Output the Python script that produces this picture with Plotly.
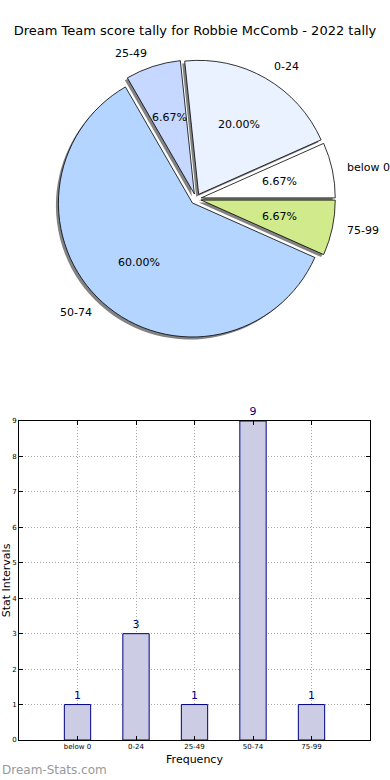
import math
import plotly.graph_objects as go

# ---- data ----
categories = ["below 0", "0-24", "25-49", "50-74", "75-99"]
counts = [1, 3, 1, 9, 1]
pie_colors = ["#ffffff", "#eaf2ff", "#c6d8ff", "#b3d5ff", "#d1ea8c"]
y_ticks = list(range(0, 10))
title_text = "Dream Team score tally for Robbie McComb - 2022 tally"

W, H = 390, 780
FONT = "DejaVu Sans, Verdana, sans-serif"

# pie geometry (pixels)
cx, cy, r = 196, 199, 134
pull = 0.04
rd = r * (1 + pull)
rot = 66  # first slice starts at 3 o'clock, counterclockwise
pct_dist, lab_dist = 0.6, 1.1
pie_area_bottom = 400  # px from top; overlay axis for pie texts spans 0..400

def dom(cxp, cyp, rad):
    return dict(x=[(cxp - rad) / W, (cxp + rad) / W],
                y=[(H - cyp - rad) / H, (H - cyp + rad) / H])

# text positions derived from the values (matplotlib-like placement)
total = sum(counts)
mids, cum = [], 0
for v in counts:
    mids.append(math.radians(360.0 * (cum + v / 2) / total))
    cum += v

annotations = []
for v, a in zip(counts, mids):
    d = pull + pct_dist
    annotations.append(dict(
        x=d * math.cos(a), y=d * math.sin(a), xref="x2", yref="y2",
        text=f"{100.0 * v / total:.2f}%", showarrow=False,
        xanchor="center", yanchor="middle",
        font=dict(family=FONT, size=11, color="#000000")))
for lab, a in zip(categories, mids):
    d = pull + lab_dist
    lx, ly = d * math.cos(a), d * math.sin(a)
    annotations.append(dict(
        x=lx, y=ly, xref="x2", yref="y2", text=lab, showarrow=False,
        xanchor="left" if lx >= 0 else "right", yanchor="middle",
        font=dict(family=FONT, size=11, color="#000000")))
annotations.append(dict(
    text="Dream-Stats.com", x=0, y=(H - 770) / H,
    xref="paper", yref="paper", xanchor="left", yanchor="middle",
    showarrow=False, font=dict(family=FONT, size=12, color="#999999")))

fig = go.Figure()

# shadow pie
fig.add_trace(go.Pie(
    labels=categories, values=counts, sort=False,
    direction="counterclockwise", rotation=rot,
    pull=[pull] * len(counts),
    marker=dict(colors=["rgba(90,90,90,0.75)"] * len(counts), line=dict(width=0)),
    textinfo="none", hoverinfo="skip", showlegend=False,
    domain=dom(cx - 2.5, cy + 2.5, rd),
))

# main pie
fig.add_trace(go.Pie(
    labels=categories, values=counts, sort=False,
    direction="counterclockwise", rotation=rot,
    pull=[pull] * len(counts),
    marker=dict(colors=pie_colors, line=dict(color="#000000", width=0.8)),
    textinfo="none",
    hoverinfo="label+value+percent", showlegend=False,
    domain=dom(cx, cy, rd),
))

# bar chart
fig.add_trace(go.Bar(
    x=list(range(len(categories))), y=counts, width=0.45,
    marker=dict(color="rgb(204,204,228)", line=dict(color="#000080", width=1)),
    text=[str(c) for c in counts], textposition="outside",
    textfont=dict(family=FONT, size=11, color="#000080"),
    cliponaxis=False, showlegend=False,
    xaxis="x", yaxis="y",
))

ax_x0, ax_x1 = 19, 370
ax_top, ax_bot = 421, 740
GRID_DASH = "1px,2px"

fig.update_layout(
    width=W, height=H,
    margin=dict(l=0, r=0, t=0, b=0, autoexpand=False),
    paper_bgcolor="white", plot_bgcolor="white",
    font=dict(family=FONT, color="#000000"),
    title=dict(text=title_text, x=0.5, xanchor="center",
               y=1 - 30 / H, yanchor="middle", automargin=False,
               font=dict(family=FONT, size=13, color="#000000")),
    xaxis=dict(
        domain=[ax_x0 / W, ax_x1 / W], range=[-1, 5],
        tickmode="array", tickvals=list(range(len(categories))), ticktext=categories,
        tickfont=dict(family=FONT, size=7), ticks="inside", ticklen=4,
        tickcolor="#000000",
        showline=True, linecolor="#000000", linewidth=1, mirror="ticks",
        showgrid=True, gridcolor="#a8a8a8", griddash=GRID_DASH, gridwidth=1,
        zeroline=False, automargin=False,
        title=dict(text="Frequency", font=dict(family=FONT, size=11), standoff=4),
        anchor="y",
    ),
    yaxis=dict(
        domain=[(H - ax_bot) / H, (H - ax_top) / H], range=[0, 9],
        tickmode="array", tickvals=y_ticks,
        tickfont=dict(family=FONT, size=7), ticks="inside", ticklen=4,
        tickcolor="#000000",
        showline=True, linecolor="#000000", linewidth=1, mirror="ticks",
        showgrid=True, gridcolor="#a8a8a8", griddash=GRID_DASH, gridwidth=1,
        zeroline=False, automargin=False,
        title=dict(text="Stat Intervals", font=dict(family=FONT, size=11), standoff=2),
        anchor="x",
    ),
    # invisible overlay axes (1 unit = pie radius) used to place the pie texts
    xaxis2=dict(domain=[0, 1], range=[-cx / r, (W - cx) / r], visible=False,
                fixedrange=True, anchor="y2", showgrid=False, zeroline=False),
    yaxis2=dict(domain=[(H - pie_area_bottom) / H, 1],
                range=[-(pie_area_bottom - cy) / r, cy / r], visible=False,
                fixedrange=True, anchor="x2", showgrid=False, zeroline=False),
    annotations=annotations,
)

fig.write_html("out.html", config={"displayModeBar": False},
               post_script="document.body.style.margin='0px';")
